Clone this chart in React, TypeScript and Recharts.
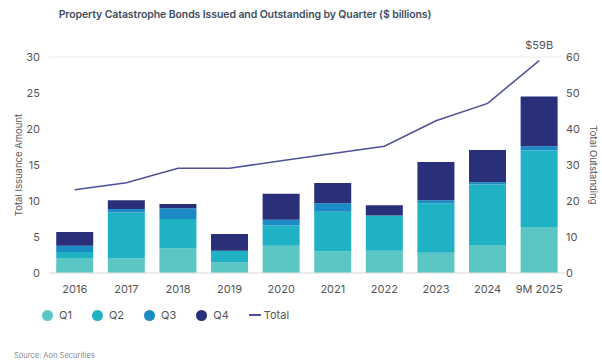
import { Bar, CartesianGrid, ComposedChart, LabelList, Line, XAxis, YAxis } from "recharts"

const years = ["2016", "2017", "2018", "2019", "2020", "2021", "2022", "2023", "2024", "9M 2025"]
const q1 = [2.1, 2.0, 3.4, 1.5, 3.8, 3.0, 3.1, 2.8, 3.9, 6.4]
const q2 = [0.8, 6.4, 4.1, 1.6, 2.8, 5.5, 4.9, 6.9, 8.4, 10.6]
const q3 = [0.9, 0.5, 1.5, 0.0, 0.8, 1.2, 0.0, 0.4, 0.3, 0.6]
const q4 = [1.9, 1.2, 0.6, 2.3, 3.6, 2.8, 1.4, 5.3, 4.5, 6.9]
const total = [23.1, 25.1, 29.1, 29.1, 31.2, 33.2, 35.2, 42.3, 47.1, 59]

const COLORS = ["#5cc6c5", "#1fb1c4", "#1a8bc5", "#292f79"]
const LINE_COLOR = "#4e5199"
const FONT = "Inter, 'Open Sans', sans-serif"

const data = years.map((year, i) => ({
  year,
  q1: q1[i],
  q2: q2[i],
  q3: q3[i],
  q4: q4[i],
  total: total[i],
}))

const legendItems = [
  { name: "Q1", color: COLORS[0] },
  { name: "Q2", color: COLORS[1] },
  { name: "Q3", color: COLORS[2] },
  { name: "Q4", color: COLORS[3] },
]

const lastLabel = (props: any) => {
  const { x, y, index } = props
  if (index !== years.length - 1) return null
  return (
    <text x={x} y={y - 12} textAnchor="middle" fontSize={11} fill="#555" fontFamily={FONT}>
      ${total[index]}B
    </text>
  )
}

export default function App() {
  const tick = { fontSize: 11, fill: "#555", fontFamily: FONT }
  const axisLabel = { fontSize: 9.5, fill: "#555", fontFamily: FONT, textAnchor: "middle" as const }
  return (
    <div style={{ position: "absolute", left: 0, top: 0, width: 602, height: 364, background: "#fff", fontFamily: FONT }}>
      <div style={{ position: "absolute", left: 0, width: 490, top: 8, textAlign: "center", fontSize: 10.5, fontWeight: 600, color: "#3d4e63", letterSpacing: -0.1 }}>
        Property Catastrophe Bonds Issued and Outstanding by Quarter ($ billions)
      </div>
      <ComposedChart
        width={602}
        height={300}
        data={data}
        margin={{ top: 57, right: 0, bottom: 0, left: 0 }}
        barCategoryGap="14%"
      >
        <CartesianGrid vertical={false} stroke="#ececec" />
        <XAxis dataKey="year" tick={tick} tickLine={false} axisLine={{ stroke: "#e2e2e2" }} height={27} tickMargin={6} />
        <YAxis
          yAxisId="left"
          domain={[0, 30]}
          ticks={[0, 5, 10, 15, 20, 25, 30]}
          tick={tick}
          tickLine={false}
          axisLine={false}
          width={49}
          tickSize={0}
          tickMargin={9}
          label={{ value: "Total Issuance Amount", angle: -90, position: "insideLeft", offset: 19, style: axisLabel }}
        />
        <YAxis
          yAxisId="right"
          orientation="right"
          domain={[0, 60]}
          ticks={[0, 10, 20, 30, 40, 50, 60]}
          tick={tick}
          tickLine={false}
          axisLine={false}
          width={37}
          tickSize={0}
          tickMargin={1}
          label={{ value: "Total Outstanding", angle: 90, position: "insideRight", offset: 9, style: axisLabel }}
        />
        <Bar yAxisId="left" dataKey="q1" stackId="a" fill={COLORS[0]} isAnimationActive={false} />
        <Bar yAxisId="left" dataKey="q2" stackId="a" fill={COLORS[1]} isAnimationActive={false} />
        <Bar yAxisId="left" dataKey="q3" stackId="a" fill={COLORS[2]} isAnimationActive={false} />
        <Bar yAxisId="left" dataKey="q4" stackId="a" fill={COLORS[3]} isAnimationActive={false} />
        <Line yAxisId="right" dataKey="total" stroke={LINE_COLOR} strokeWidth={1.5} dot={false} isAnimationActive={false}>
          <LabelList dataKey="total" content={lastLabel} />
        </Line>
      </ComposedChart>
      <div style={{ position: "absolute", left: 42, top: 308, display: "flex", alignItems: "center", fontSize: 11, color: "#555" }}>
        {legendItems.map((it) => (
          <div key={it.name} style={{ display: "flex", alignItems: "center", marginRight: 20 }}>
            <span style={{ width: 11, height: 11, borderRadius: 6, background: it.color, display: "inline-block", marginRight: 6 }} />
            {it.name}
          </div>
        ))}
        <div style={{ display: "flex", alignItems: "center" }}>
          <span style={{ width: 12, height: 2, background: LINE_COLOR, display: "inline-block", marginRight: 3 }} />
          Total
        </div>
      </div>
      <div style={{ position: "absolute", left: 14, top: 351, fontSize: 7.5, color: "#888" }}>Source: Aon Securities</div>
    </div>
  )
}
